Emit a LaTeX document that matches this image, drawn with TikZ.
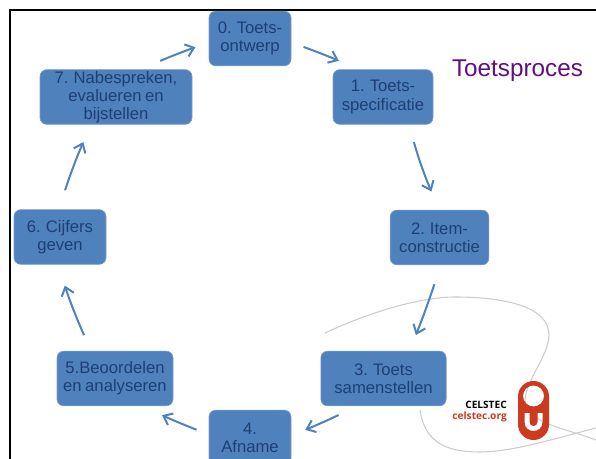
\documentclass[tikz,border=0pt]{standalone}
\usepackage{fontspec}
\setmainfont[WordSpace=0.75]{Liberation Sans}
\newfontfamily\logofont{Open Sans}
\usetikzlibrary{arrows.meta}
\definecolor{boxblue}{HTML}{4F81BD}
\definecolor{boxedge}{HTML}{7C9FCB}
\definecolor{boxtext}{HTML}{1F3F73}
\definecolor{flowblue}{HTML}{4F81BD}
\definecolor{titlepurple}{HTML}{5F0F7F}
\definecolor{swoosh}{HTML}{CCCCCC}
\definecolor{logored}{HTML}{CC3B20}
\begin{document}
\begin{tikzpicture}[x=0.75pt,y=-0.75pt]
        \tikzstyle{stepbox}=[rectangle,draw=boxedge,fill=boxblue,rounded corners=5pt,text=boxtext,
            font=\fontsize{12.5}{13.5}\selectfont,align=center,inner sep=0pt,line width=.5pt,minimum height=41pt]
        \tikzset{flow/.style 2 args={draw=flowblue,line width=1.5pt,-{Straight Barb[length=6pt,width=9.5pt]},
            shorten <=#1*.75pt,shorten >=#2*.75pt}}
        \useasboundingbox (0,0) rectangle (596,459);
        \clip (0,0) rectangle (596,459);
        \draw[line width=1.5pt] (10,459) -- (10,10) -- (596,10);
        % background lines
        \draw[swoosh,line width=.8pt] (325,333) .. controls (370,312) and (420,297) .. (455,297)
            .. controls (500,297) and (549,305) .. (549,335) .. controls (549,360) and (512,395) .. (530,412)
            .. controls (540,425) and (570,430) .. (596,440);
        \draw[swoosh,line width=.8pt] (420,410) .. controls (425,445) and (450,452) .. (480,452)
            .. controls (510,452) and (550,440) .. (596,428);
        % steps
        \node[stepbox,minimum width=61.5pt] (n0) at (250,38.5) {0. Toets-\\ontwerp};
        \node[stepbox,minimum width=75pt] (n1) at (383,97) {1. Toets-\\specificatie};
        \node[stepbox,minimum width=74pt] (n2) at (439.5,237.5) {2. Item-\\constructie};
        \node[stepbox,minimum width=94pt] (n3) at (383.5,378.5) {3. Toets\\samenstellen};
        \node[stepbox,minimum width=61.5pt] (n4) at (250,437.5) {4.\\Afname};
        \node[stepbox,minimum width=87pt] (n5) at (115,378.5) {5.Beoordelen\\en analyseren};
        \node[stepbox,minimum width=69pt] (n6) at (60,237) {6. Cijfers\\geven};
        \node[stepbox,minimum width=114pt] (n7) at (116,97) {7. Nabespreken,\\evalueren en\\bijstellen};
        \node[text=titlepurple,font=\fontsize{18.2}{20}\selectfont,inner sep=0pt] (title) at (517.5,71) {Toetsproces};
        % arrows
        \draw[flow={13}{21}] ([shift={(0,4)}]n0.east) to[bend left=2] ([shift={(-25,0)}]n1.north);
        \draw[flow={18}{20}] ([shift={(26,0)}]n1.south) to[bend right=4] (n2.north);
        \draw[flow={20}{17}] ([shift={(1,0)}]n2.south) to[bend left=2] ([shift={(26,0)}]n3.north);
        \draw[flow={20}{15}] ([shift={(-27,0)}]n3.south) to[bend left=2] ([shift={(0,-2)}]n4.east);
        \draw[flow={13}{21}] ([shift={(0,-3)}]n4.west) to[bend left=2] ([shift={(28,0)}]n5.south);
        \draw[flow={17}{22}] ([shift={(-24,0)}]n5.north) to[bend left=3] ([shift={(-2,0)}]n6.south);
        \draw[flow={20}{19}] ([shift={(-1,0)}]n6.north) to[bend left=3] ([shift={(-25,0)}]n7.south);
        \draw[flow={21}{14}] ([shift={(25,0)}]n7.north) to[bend left=2] ([shift={(0,4)}]n0.west);
        % logo
        \node[anchor=east,inner sep=0pt,font=\logofont\bfseries\fontsize{7.6}{9}\selectfont] (celstec) at (507,405) {CELSTEC};
        \node[anchor=east,inner sep=0pt,text=logored,font=\logofont\bfseries\fontsize{7.6}{9}\selectfont] (celstecorg) at (507,417) {celstec.org};
        \fill[logored,even odd rule] [rounded corners=11.6pt] (518,381) rectangle (549,440) [sharp corners]
            (533.5,396) circle (10.5)
            (524.5,413) -- (524.5,422) .. controls (524.5,434) and (542.5,434) .. (542.5,422) -- (542.5,413)
            -- (537.5,413) -- (537.5,422) .. controls (537.5,427.3) and (529.5,427.3) .. (529.5,422) -- (529.5,413) -- cycle;
\end{tikzpicture}
\end{document}
